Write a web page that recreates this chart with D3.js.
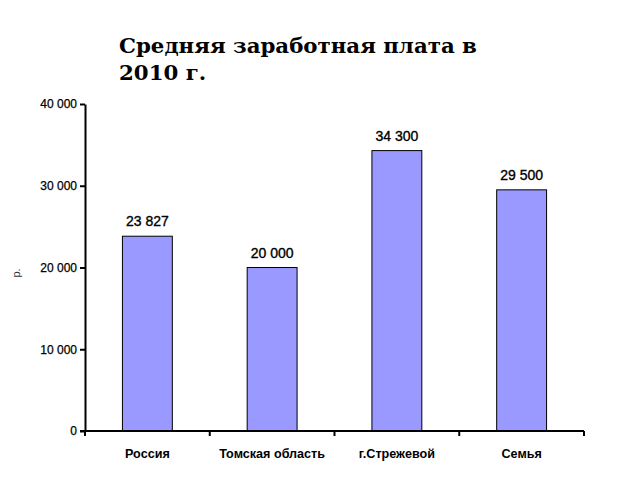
<!DOCTYPE html>
<html><head><meta charset="utf-8">
<script src="https://cdn.jsdelivr.net/npm/d3@7"></script>
<style>body{margin:0;background:#fff}</style>
</head><body>
<script>
const categories = ["Россия", "Томская область", "г.Стрежевой", "Семья"];
const values = [23827, 20000, 34300, 29500];
const valueLabels = ["23 827", "20 000", "34 300", "29 500"];
const yTicks = [0, 10000, 20000, 30000, 40000];
const yTickLabels = ["0", "10 000", "20 000", "30 000", "40 000"];
const titleLines = ["Средняя заработная плата в", "2010 г."];
const yLabel = "р.";

const W = 640, H = 480;
const svg = d3.select("body").append("svg").attr("width", W).attr("height", H);
const m = {left: 85, right: 56, top: 104, bottom: 49};
const x = d3.scaleBand().domain(categories).range([m.left, W - m.right]).paddingInner(0.6).paddingOuter(0.3);
const y = d3.scaleLinear().domain([0, 40000]).range([H - m.bottom, m.top]);

// title
svg.append("text").attr("x", 119).attr("y", 53)
  .attr("font-family", "DejaVu Serif").attr("font-weight", "bold").attr("font-size", 21.3)
  .selectAll("tspan").data(titleLines).join("tspan")
  .attr("x", 119).attr("dy", (d, i) => i ? 27 : 0).text(d => d);

// bars
svg.selectAll("rect.bar").data(values).join("rect").attr("class", "bar")
  .attr("x", (d, i) => x(categories[i])).attr("width", x.bandwidth())
  .attr("y", d => y(d)).attr("height", d => y(0) - y(d))
  .attr("fill", "#9999FF").attr("stroke", "#000").attr("stroke-width", 1);

// value labels
svg.selectAll("text.val").data(values).join("text").attr("class", "val")
  .attr("x", (d, i) => x(categories[i]) + x.bandwidth() / 2).attr("y", d => y(d) - 10)
  .attr("text-anchor", "middle").attr("font-family", "Liberation Sans, Arial")
  .attr("font-size", 14).attr("stroke", "#000").attr("stroke-width", 0.35)
  .text((d, i) => valueLabels[i]);

// y axis
const yAxis = d3.axisLeft(y).tickValues(yTicks).tickFormat((d, i) => yTickLabels[i]).tickSize(5).tickSizeOuter(0).tickPadding(3);
const gy = svg.append("g").attr("transform", `translate(${m.left},0)`).call(yAxis);
gy.select(".domain").attr("stroke-width", 2);
gy.selectAll(".tick line").attr("stroke-width", 2);
gy.selectAll("text").attr("font-family", "Liberation Sans, Arial").attr("font-size", 12)
  .attr("fill", "#000").attr("stroke", "#000").attr("stroke-width", 0.25);

// x axis
const xBoundaries = d3.range(categories.length + 1).map(i => m.left + i * ((W - m.right - m.left) / categories.length));
const gx = svg.append("g").attr("transform", `translate(0,${y(0)})`);
gx.append("line").attr("x1", m.left - 5).attr("x2", W - m.right).attr("stroke", "#000").attr("stroke-width", 2);
gx.selectAll("line.t").data(xBoundaries).join("line").attr("class", "t")
  .attr("x1", d => d).attr("x2", d => d).attr("y1", 0).attr("y2", 5).attr("stroke", "#000").attr("stroke-width", 2);
gx.selectAll("text").data(categories).join("text")
  .attr("x", d => x(d) + x.bandwidth() / 2).attr("y", 27).attr("text-anchor", "middle")
  .attr("font-family", "Liberation Sans, Arial").attr("font-size", 12.6).attr("font-weight", "bold").text(d => d);

// y label
svg.append("text").attr("transform", "translate(20,273) rotate(-90)").attr("text-anchor", "middle")
  .attr("font-family", "Liberation Sans, Arial").attr("font-size", 11).attr("fill", "#333").text(yLabel);
</script>
</body></html>
